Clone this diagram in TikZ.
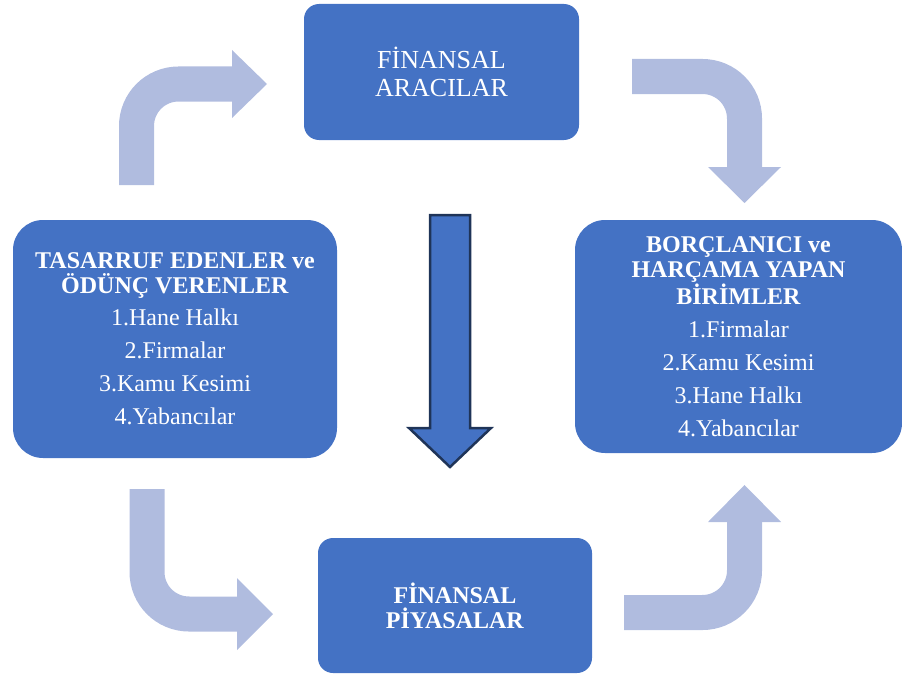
\documentclass[tikz,border=0pt]{standalone}
\usepackage{fontspec}
\setmainfont{Liberation Serif}
\usepackage{tikz}
\usetikzlibrary{calc}
\definecolor{boxblue}{HTML}{4472C4}
\definecolor{softblue}{HTML}{B0BCDF}
\definecolor{navy}{HTML}{1F3458}

\begin{document}
\begin{tikzpicture}[x=1pt,y=-1pt,
    box/.style={fill=boxblue,text=white,align=center,inner sep=0pt,
        font=\fontsize{24}{25}\selectfont},
    bigbox/.style={box,rounded corners=30pt},
    smallbox/.style={box,rounded corners=15pt},
    softline/.style={draw=softblue,line width=35pt,rounded corners=42pt},
    softhead/.style={fill=softblue},
    downarrow/.style={fill=boxblue,draw=navy,line width=2.5pt,line join=miter}]
    \useasboundingbox (0,0) rectangle (902,677);
    % boxes
    \node[smallbox,minimum width=275pt,minimum height=136pt,
        font=\fontsize{26}{28}\selectfont] (arac) at (441.5,72) {FİNANSAL\\ARACILAR};
    \node[bigbox,minimum width=324pt,minimum height=238pt] (tas) at (175,339)
        {\textbf{TASARRUF EDENLER ve}\\\textbf{ÖDÜNÇ VERENLER}\\[7pt]
         1.Hane Halkı\\[8pt]2.Firmalar\\[8pt]3.Kamu Kesimi\\[8pt]4.Yabancılar};
    \node[bigbox,minimum width=327pt,minimum height=233pt] (borc) at (738.5,336.5)
        {\textbf{BORÇLANICI ve}\\\textbf{HARÇAMA YAPAN}\\\textbf{BİRİMLER}\\[8pt]
         1.Firmalar\\[8pt]2.Kamu Kesimi\\[8pt]3.Hane Halkı\\[8pt]4.Yabancılar};
    \node[smallbox,minimum width=274pt,minimum height=135pt] (piy) at (455,605.5)
        {\textbf{FİNANSAL}\\\textbf{PİYASALAR}};
    % arrow ends
    \coordinate (tasup) at (136.5,185);
    \coordinate (aracin) at (267,84);
    \coordinate (aracout) at (632,76.5);
    \coordinate (borcin) at (744.5,203);
    \coordinate (tasdown) at (147,489);
    \coordinate (piyin) at (273,614);
    \coordinate (piyout) at (624,612.5);
    \coordinate (borcup) at (744.5,485);
    \coordinate (midtop) at (450,215);
    \coordinate (midtip) at (450,467);
    % bent arrows
    \draw[softline] (tasup) |- ($(aracin)+(-35,0)$);
    \fill[softhead] ($(aracin)+(-35,-34)$) -- (aracin) -- ($(aracin)+(-35,34)$) -- cycle;
    \draw[softline] (aracout) -| ($(borcin)+(0,-36)$);
    \fill[softhead] ($(borcin)+(-36.5,-36)$) -- (borcin) -- ($(borcin)+(36.5,-36)$) -- cycle;
    \draw[softline] (tasdown) |- ($(piyin)+(-36,0)$);
    \fill[softhead] ($(piyin)+(-36,-36)$) -- (piyin) -- ($(piyin)+(-36,36)$) -- cycle;
    \draw[softline] (piyout) -| ($(borcup)+(0,37)$);
    \fill[softhead] ($(borcup)+(-36.5,37)$) -- (borcup) -- ($(borcup)+(36.5,37)$) -- cycle;
    % middle arrow
    \draw[downarrow] ($(midtop)+(-20,0)$) -- ($(midtop)+(20,0)$) -- ($(midtip)+(20,-39)$)
        -- ($(midtip)+(41,-39)$) -- (midtip) -- ($(midtip)+(-41,-39)$)
        -- ($(midtip)+(-20,-39)$) -- cycle;
\end{tikzpicture}
\end{document}
